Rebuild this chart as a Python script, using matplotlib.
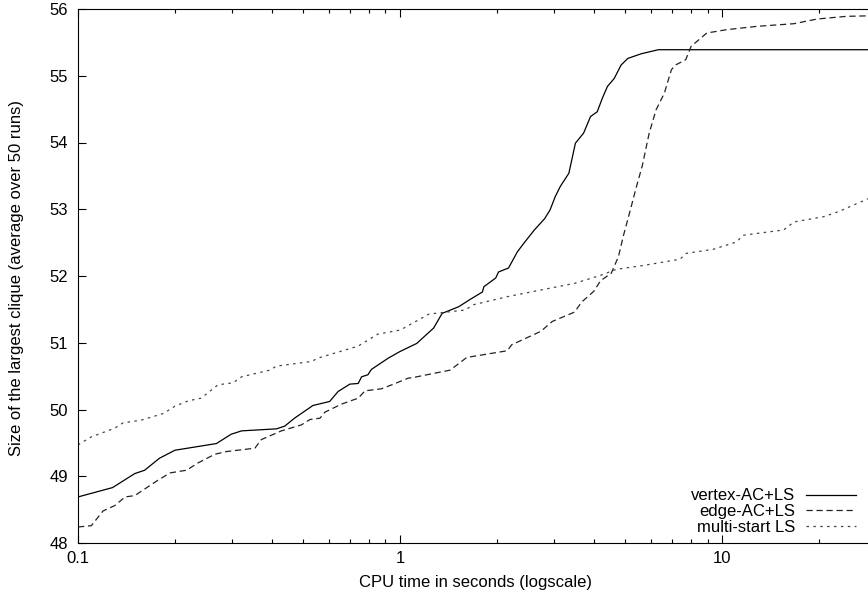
import matplotlib
matplotlib.use('Agg')
import matplotlib.pyplot as plt
from matplotlib.ticker import FixedLocator, NullFormatter, LogLocator

plt.rcParams['font.family'] = ['Liberation Sans', 'DejaVu Sans']

# vertex-AC+LS
vertex_t = [0.1, 0.128, 0.150, 0.161, 0.179, 0.200, 0.269, 0.299, 0.322, 0.413, 0.438,
            0.470, 0.536, 0.604, 0.642, 0.698, 0.741, 0.759, 0.794, 0.814, 0.919, 1.0,
            1.126, 1.27, 1.35, 1.52, 1.65, 1.80, 1.82, 1.98, 2.02, 2.17, 2.31, 2.42,
            2.61, 2.81, 2.92, 3.03, 3.14, 3.34, 3.50, 3.71, 3.90, 4.09, 4.24, 4.40,
            4.62, 4.85, 5.09, 5.61, 6.33, 30.0]
vertex_v = [48.69, 48.83, 49.04, 49.09, 49.27, 49.39, 49.49, 49.63, 49.68, 49.71, 49.75,
            49.87, 50.06, 50.12, 50.27, 50.38, 50.39, 50.49, 50.52, 50.60, 50.77, 50.87,
            50.99, 51.22, 51.44, 51.54, 51.65, 51.76, 51.84, 51.97, 52.06, 52.12, 52.36, 52.49,
            52.69, 52.86, 52.99, 53.19, 53.34, 53.54, 53.99, 54.14, 54.39, 54.46, 54.66, 54.84,
            54.96, 55.16, 55.26, 55.33, 55.39, 55.39]

# edge-AC+LS
edge_t = [0.1, 0.110, 0.1196, 0.130, 0.140, 0.150, 0.177, 0.193, 0.217, 0.236, 0.266,
          0.289, 0.354, 0.371, 0.428, 0.494, 0.525, 0.564, 0.584, 0.657, 0.741, 0.778,
          0.875, 0.965, 1.06, 1.10, 1.21, 1.43, 1.61, 2.15, 2.22, 2.73, 2.97, 3.48,
          3.66, 3.99, 4.19, 4.52, 4.76, 4.93, 5.19, 5.38, 5.65, 5.93, 6.23, 6.61,
          6.95, 7.15, 7.7, 8.0, 8.95, 10.3, 12.8, 16.7, 19.7, 24.3, 30.0]
edge_v = [48.24, 48.26, 48.48, 48.56, 48.69, 48.71, 48.94, 49.05, 49.09, 49.20, 49.33,
          49.37, 49.42, 49.55, 49.68, 49.77, 49.85, 49.87, 49.96, 50.08, 50.17, 50.28,
          50.31, 50.39, 50.47, 50.48, 50.52, 50.59, 50.78, 50.88, 50.97, 51.17, 51.32, 51.46,
          51.61, 51.77, 51.93, 52.04, 52.29, 52.60, 53.00, 53.29, 53.66, 54.14, 54.49, 54.74,
          55.09, 55.16, 55.24, 55.44, 55.64, 55.69, 55.74, 55.78, 55.85, 55.89, 55.90]

# multi-start LS
multi_t = [0.1, 0.11, 0.130, 0.138, 0.157, 0.184, 0.200, 0.220, 0.241, 0.272, 0.303,
           0.322, 0.394, 0.413, 0.531, 0.556, 0.741, 0.853, 1.0, 1.23, 1.59, 1.69,
           2.15, 2.73, 3.48, 4.19, 4.69, 5.72, 7.38, 7.74, 9.37, 11.07, 11.6, 15.5,
           16.7, 20.7, 23.1, 28.1, 30.0]
multi_v = [49.47, 49.59, 49.72, 49.80, 49.84, 49.94, 50.05, 50.13, 50.17, 50.37, 50.40,
           50.49, 50.59, 50.65, 50.72, 50.77, 50.95, 51.13, 51.19, 51.43, 51.49, 51.57,
           51.69, 51.79, 51.89, 52.01, 52.10, 52.16, 52.25, 52.34, 52.40, 52.51, 52.61, 52.69,
           52.81, 52.89, 52.97, 53.15, 53.20]

x_ticks = [0.1, 1, 10]
x_tick_labels = ['0.1', '1', '10']
y_ticks = [48, 49, 50, 51, 52, 53, 54, 55, 56]

FS = 12

fig = plt.figure(figsize=(8.68, 5.96), dpi=100)
# axes runs slightly past the right edge of the figure, like the cropped original
ax = fig.add_axes([78 / 868, 53 / 596, 798 / 868, 534 / 596])

ax.plot(vertex_t, vertex_v, color='black', lw=0.9, ls='-', label='vertex-AC+LS')
ax.plot(edge_t, edge_v, color='#222222', lw=0.9, ls=(0, (5, 3)), label='edge-AC+LS')
ax.plot(multi_t, multi_v, color='#444444', lw=0.9, ls=(0, (2, 3.5)), label='multi-start LS')

ax.set_xscale('log')
ax.set_xlim(0.1, 30)
ax.set_ylim(48, 56)
ax.xaxis.set_major_locator(FixedLocator(x_ticks))
ax.set_xticklabels(x_tick_labels)
ax.xaxis.set_minor_locator(LogLocator(base=10, subs=range(2, 10)))
ax.xaxis.set_minor_formatter(NullFormatter())
ax.set_yticks(y_ticks)

ax.tick_params(which='both', direction='in', top=True, right=True, labelsize=FS,
               width=0.8, colors='black')
ax.tick_params(which='major', length=5.8)
ax.tick_params(which='minor', length=3)
ax.tick_params(axis='y', pad=7)
ax.tick_params(axis='x', pad=6)
for s in ax.spines.values():
    s.set_linewidth(0.8)

fig.text(17 / 868, 1 - 278 / 596, 'Size of the largest clique (average over 50 runs)',
         rotation=90, ha='center', va='center', fontsize=FS)
fig.text(476 / 868, 1 - 583 / 596, 'CPU time in seconds (logscale)',
         ha='center', va='center', fontsize=FS)

fig.legend(loc='lower right', bbox_to_anchor=(856 / 868, 61 / 596), frameon=False,
           markerfirst=False, fontsize=FS, handlelength=3.0, handletextpad=0.65,
           labelspacing=0.05, borderpad=0, borderaxespad=0)

fig.savefig('out.png', dpi=100)
